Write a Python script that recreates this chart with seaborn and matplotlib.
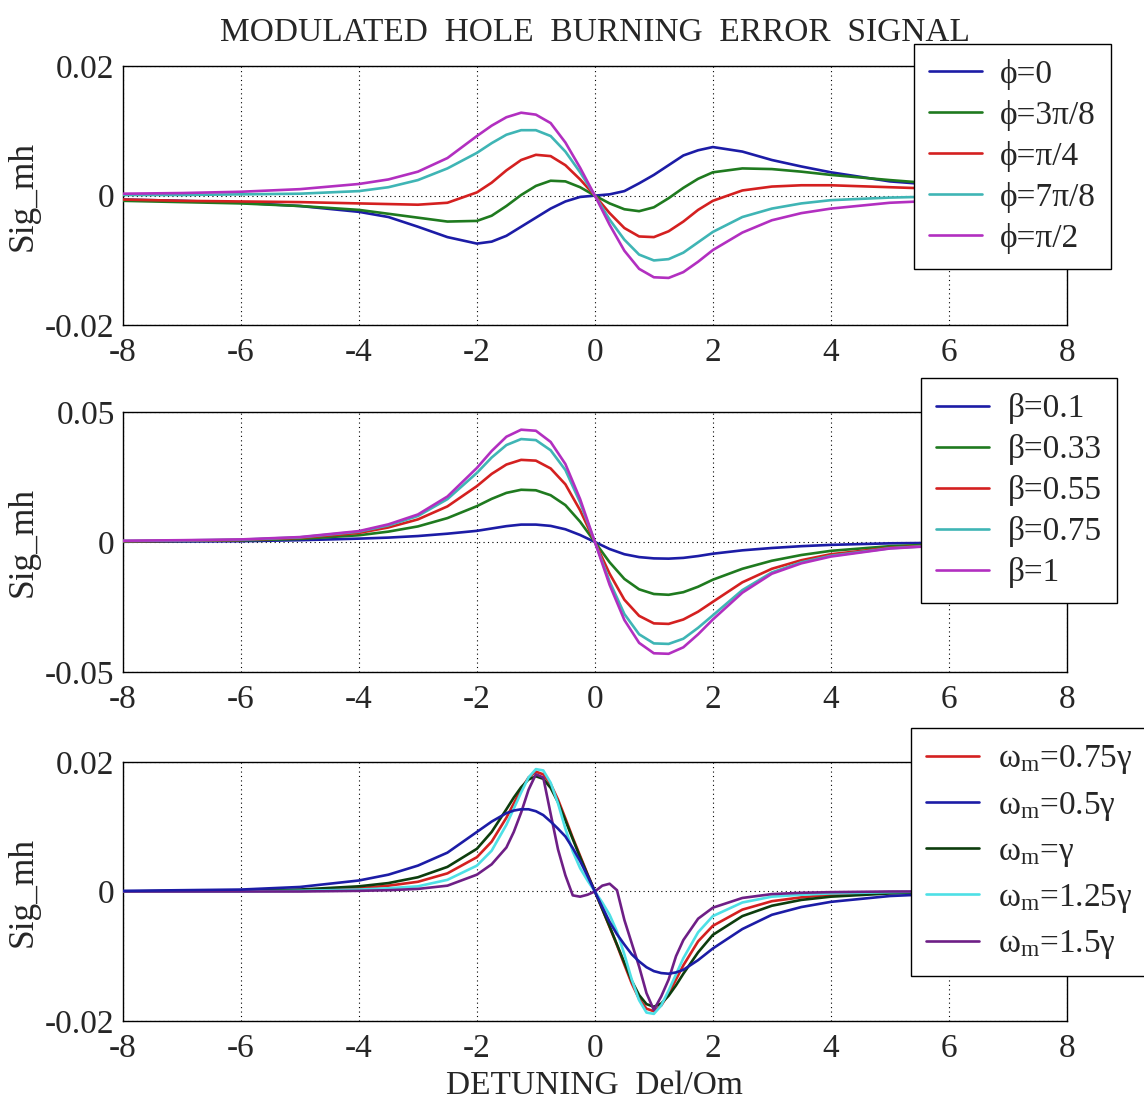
import matplotlib
matplotlib.use("Agg")
import matplotlib.pyplot as plt
import numpy as np
import pandas as pd
import seaborn as sns

# detuning grid (Del/Om) for the two upper panels
x_pb = [-8, -7, -6, -5, -4, -3.5, -3, -2.5, -2, -1.75, -1.5, -1.25, -1, -0.75, -0.5, -0.25, 0,
        0.25, 0.5, 0.75, 1, 1.25, 1.5, 1.75, 2, 2.5, 3, 3.5, 4, 5, 6, 7, 8]

# panel 1 : phase phi
phi_labels = ["ϕ=0", "ϕ=3π/8", "ϕ=π/4", "ϕ=7π/8", "ϕ=π/2"]
phi_0 = [-0.0006, -0.0008, -0.0011, -0.0016, -0.0025, -0.0033, -0.0048, -0.0064, -0.0074, -0.0071, -0.0062,
         -0.0048, -0.0034, -0.0020, -0.0009, -0.0002, 0.0,
         0.0002, 0.0007, 0.0019, 0.0032, 0.0047, 0.0062, 0.0070, 0.0075, 0.0068, 0.0055, 0.0045, 0.0036,
         0.0022, 0.0015, 0.0010, 0.0007]
phi_3pi8 = [-0.0008, -0.0010, -0.0012, -0.0016, -0.0022, -0.0028, -0.0034, -0.0040, -0.0039, -0.0031, -0.0016,
            0.0001, 0.0015, 0.0023, 0.0022, 0.0013, 0.0,
            -0.0012, -0.0021, -0.0024, -0.0018, -0.0004, 0.0012, 0.0026, 0.0036, 0.0042, 0.0041, 0.0037, 0.0032,
            0.0024, 0.0017, 0.0012, 0.0009]
phi_pi4 = [-0.0006, -0.0008, -0.0009, -0.0010, -0.0012, -0.0013, -0.0014, -0.0011, 0.0005, 0.0020, 0.0039,
           0.0055, 0.0063, 0.0061, 0.0047, 0.0025, 0.0,
           -0.0027, -0.0050, -0.0063, -0.0064, -0.0055, -0.0040, -0.0022, -0.0008, 0.0008, 0.0014, 0.0016, 0.0016,
           0.0013, 0.0010, 0.0008, 0.0006]
phi_7pi8 = [0.0001, 0.0001, 0.0002, 0.0003, 0.0007, 0.0013, 0.0024, 0.0042, 0.0066, 0.0081, 0.0094,
            0.0101, 0.0101, 0.0092, 0.0068, 0.0036, 0.0,
            -0.0037, -0.0068, -0.0091, -0.0100, -0.0098, -0.0088, -0.0072, -0.0056, -0.0033, -0.0020, -0.0012,
            -0.0007, -0.0003, -0.0001, -0.0001, 0.0]
phi_pi2 = [0.0003, 0.0004, 0.0006, 0.0010, 0.0018, 0.0025, 0.0037, 0.0058, 0.0092, 0.0108, 0.0121,
           0.0128, 0.0125, 0.0112, 0.0082, 0.0043, 0.0,
           -0.0045, -0.0085, -0.0113, -0.0126, -0.0127, -0.0118, -0.0102, -0.0084, -0.0057, -0.0038, -0.0027,
           -0.0020, -0.0011, -0.0007, -0.0005, -0.0003]

# panel 2 : modulation index beta
beta_labels = ["β=0.1", "β=0.33", "β=0.55", "β=0.75", "β=1"]
beta_01 = [0.0001, 0.0002, 0.0003, 0.0007, 0.0013, 0.0017, 0.0023, 0.0032, 0.0043, 0.0052, 0.0061,
           0.0067, 0.0067, 0.0062, 0.0049, 0.0027, 0.0,
           -0.0027, -0.0047, -0.0058, -0.0063, -0.0064, -0.0061, -0.0054, -0.0045, -0.0032, -0.0023, -0.0016,
           -0.0011, -0.0005, -0.0003, -0.0002, -0.0001]
beta_033 = [0.0002, 0.0004, 0.0006, 0.0012, 0.0026, 0.0040, 0.0060, 0.0092, 0.0138, 0.0166, 0.0189,
            0.0201, 0.0199, 0.0180, 0.0142, 0.0078, 0.0,
            -0.0078, -0.0142, -0.0182, -0.0200, -0.0203, -0.0193, -0.0172, -0.0145, -0.0103, -0.0072, -0.0050,
            -0.0034, -0.0016, -0.0008, -0.0005, -0.0003]
beta_055 = [0.0003, 0.0005, 0.0008, 0.0016, 0.0035, 0.0056, 0.0087, 0.0137, 0.0215, 0.0262, 0.0298,
            0.0316, 0.0313, 0.0283, 0.0222, 0.0122, 0.0,
            -0.0122, -0.0222, -0.0284, -0.0313, -0.0315, -0.0298, -0.0268, -0.0230, -0.0155, -0.0103, -0.0070,
            -0.0047, -0.0022, -0.0010, -0.0006, -0.0004]
beta_075 = [0.0004, 0.0006, 0.0009, 0.0018, 0.0040, 0.0064, 0.0100, 0.0165, 0.0266, 0.0325, 0.0373,
            0.0396, 0.0392, 0.0353, 0.0277, 0.0152, 0.0,
            -0.0152, -0.0277, -0.0355, -0.0390, -0.0392, -0.0372, -0.0330, -0.0282, -0.0185, -0.0117, -0.0078,
            -0.0053, -0.0024, -0.0011, -0.0006, -0.0004]
beta_1 = [0.0005, 0.0007, 0.0010, 0.0019, 0.0042, 0.0068, 0.0106, 0.0175, 0.0285, 0.0350, 0.0405,
          0.0432, 0.0428, 0.0385, 0.0300, 0.0165, 0.0,
          -0.0165, -0.0300, -0.0388, -0.0428, -0.0430, -0.0405, -0.0355, -0.0298, -0.0195, -0.0122, -0.0082,
          -0.0056, -0.0025, -0.0012, -0.0007, -0.0005]

# panel 3 : modulation frequency (finer grid near the center)
x_w = [-8, -7, -6, -5, -4, -3.5, -3, -2.5, -2, -1.75, -1.5, -1.375, -1.25, -1.125, -1, -0.875, -0.75,
       -0.625, -0.5, -0.375, -0.25, -0.125, 0, 0.125, 0.25, 0.375, 0.5, 0.625, 0.75, 0.875, 1, 1.125,
       1.25, 1.375, 1.5, 1.75, 2, 2.5, 3, 3.5, 4, 5, 6, 7, 8]
w_labels = [r"$\mathrm{\omega_m}$=0.75γ", r"$\mathrm{\omega_m}$=0.5γ", r"$\mathrm{\omega_m}$=γ",
            r"$\mathrm{\omega_m}$=1.25γ", r"$\mathrm{\omega_m}$=1.5γ"]
w_075 = [0.0, 0.0, 0.0001, 0.0002, 0.0005, 0.0009, 0.0015, 0.0028, 0.0053, 0.0077, 0.0114, 0.0136, 0.0158,
         0.0176, 0.0185, 0.0181, 0.0166, 0.0142, 0.0113, 0.0083, 0.0055, 0.0027, 0.0,
         -0.0027, -0.0055, -0.0083, -0.0113, -0.0142, -0.0166, -0.0181, -0.0185, -0.0176, -0.0158, -0.0136,
         -0.0114, -0.0077, -0.0053, -0.0028, -0.0015, -0.0009, -0.0005, -0.0002, -0.0001, 0.0, 0.0]
w_05 = [0.0001, 0.0002, 0.0003, 0.0007, 0.0017, 0.0026, 0.0040, 0.0060, 0.0092, 0.0108, 0.0121, 0.0125,
        0.0127, 0.0127, 0.0124, 0.0118, 0.0108, 0.0097, 0.0085, 0.0067, 0.0047, 0.0024, 0.0,
        -0.0024, -0.0047, -0.0066, -0.0082, -0.0097, -0.0108, -0.0117, -0.0123, -0.0126, -0.0127, -0.0125,
        -0.0121, -0.0106, -0.0088, -0.0058, -0.0036, -0.0024, -0.0016, -0.0007, -0.0003, -0.0002, -0.0001]
w_1 = [0.0, 0.0001, 0.0001, 0.0003, 0.0008, 0.0013, 0.0022, 0.0038, 0.0066, 0.0092, 0.0127, 0.0145, 0.0161,
       0.0173, 0.0178, 0.0174, 0.0160, 0.0138, 0.0110, 0.0081, 0.0053, 0.0026, 0.0,
       -0.0027, -0.0054, -0.0082, -0.0110, -0.0138, -0.0160, -0.0174, -0.0178, -0.0173, -0.0161, -0.0145,
       -0.0127, -0.0094, -0.0067, -0.0038, -0.0022, -0.0013, -0.0008, -0.0003, -0.0001, -0.0001, 0.0]
w_125 = [0.0, 0.0, 0.0, 0.0001, 0.0003, 0.0005, 0.0008, 0.0018, 0.0040, 0.0063, 0.0103, 0.0128, 0.0153,
         0.0176, 0.0189, 0.0187, 0.0168, 0.0136, 0.0097, 0.0062, 0.0036, 0.0017, 0.0,
         -0.0017, -0.0036, -0.0062, -0.0097, -0.0136, -0.0168, -0.0187, -0.0189, -0.0176, -0.0153, -0.0128,
         -0.0103, -0.0063, -0.0038, -0.0017, -0.0008, -0.0005, -0.0003, -0.0001, 0.0, 0.0, 0.0]
w_15 = [0.0, 0.0, 0.0, 0.0, 0.0001, 0.0002, 0.0004, 0.0009, 0.0026, 0.0042, 0.0068, 0.0092, 0.0122,
        0.0157, 0.0181, 0.0176, 0.0120, 0.0065, 0.0025, -0.0006, -0.0008, -0.0005, 0.0,
        0.0009, 0.0012, 0.0002, -0.0044, -0.0080, -0.0116, -0.0157, -0.0183, -0.0162, -0.0136, -0.0100,
        -0.0075, -0.0042, -0.0025, -0.0010, -0.0004, -0.0002, -0.0001, 0.0, 0.0, 0.0, 0.0]

phi_colors = ["#1c1ca6", "#1f7a1f", "#d42020", "#3fb5b5", "#b22fc0"]
beta_colors = ["#1c1ca6", "#1f7a1f", "#d42020", "#3fb5b5", "#b22fc0"]
w_colors = ["#d42020", "#1c1ca6", "#0d3d0d", "#4ee0e6", "#6e1f86"]

sns.set_theme(style="white")
plt.rcParams["font.family"] = ["Liberation Serif", "DejaVu Serif"]
plt.rcParams["mathtext.fontset"] = "custom"
plt.rcParams["mathtext.rm"] = "Liberation Serif"
plt.rcParams["mathtext.it"] = "Liberation Serif:italic"
plt.rcParams["axes.unicode_minus"] = False

fig = plt.figure(figsize=(11.44, 11.10), dpi=100)
ax1 = fig.add_axes([0.1075, 0.707, 0.825, 0.2335])
ax2 = fig.add_axes([0.1075, 0.3946, 0.825, 0.2342])
ax3 = fig.add_axes([0.1075, 0.0802, 0.825, 0.2333])


def draw_panel(ax, x, series, labels, colors, ylim, yticks, yticklabels, leg_anchor, top_idx=None,
               spacing=0.3):
    for i, (ys, lab, col) in enumerate(zip(series, labels, colors)):
        df = pd.DataFrame({"x": x, "y": ys})
        sns.lineplot(data=df, x="x", y="y", color=col, label=lab, lw=1.9, sort=False, ax=ax,
                     zorder=4 if i == top_idx else 3)
    ax.set_xlim(-8, 8)
    ax.set_ylim(*ylim)
    ax.set_xticks(range(-8, 9, 2))
    ax.set_xticklabels([str(v) for v in range(-8, 9, 2)])
    ax.set_yticks(yticks)
    ax.set_yticklabels(yticklabels)
    ax.grid(True, linestyle=(0, (1, 3)), color="black", linewidth=0.8)
    ax.tick_params(axis="x", direction="in", length=5, labelsize=24, pad=9, color="black")
    ax.tick_params(axis="y", direction="in", length=5, labelsize=24, pad=6, color="black")
    for s in ax.spines.values():
        s.set_color("black")
        s.set_linewidth(1.0)
    ax.set_xlabel("")
    ax.set_ylabel("Sig_mh", fontsize=25.5, labelpad=4)
    leg = ax.legend(loc="upper right", bbox_to_anchor=leg_anchor, fontsize=24, frameon=True,
                    fancybox=False, framealpha=1, edgecolor="black", borderaxespad=0,
                    handlelength=1.6, handletextpad=0.55, labelspacing=spacing, borderpad=0.45)
    leg.get_frame().set_linewidth(1.0)
    leg.set_zorder(10)
    return leg


draw_panel(ax1, x_pb, [phi_0, phi_3pi8, phi_pi4, phi_7pi8, phi_pi2], phi_labels, phi_colors,
           (-0.02, 0.02), [-0.02, 0, 0.02], ["-0.02", "0", "0.02"], (1.047, 1.085))
draw_panel(ax2, x_pb, [beta_01, beta_033, beta_055, beta_075, beta_1], beta_labels, beta_colors,
           (-0.05, 0.05), [-0.05, 0, 0.05], ["-0.05", "0", "0.05"], (1.053, 1.13))
draw_panel(ax3, x_w, [w_075, w_05, w_1, w_125, w_15], w_labels, w_colors,
           (-0.02, 0.02), [-0.02, 0, 0.02], ["-0.02", "0", "0.02"], (1.085, 1.13), top_idx=1,
           spacing=0.4)

ax1.set_title("MODULATED  HOLE  BURNING  ERROR  SIGNAL", fontsize=24, pad=18)
ax3.set_xlabel("DETUNING  Del/Om", fontsize=24, labelpad=5)

fig.savefig("out.png", dpi=100, facecolor="white")
